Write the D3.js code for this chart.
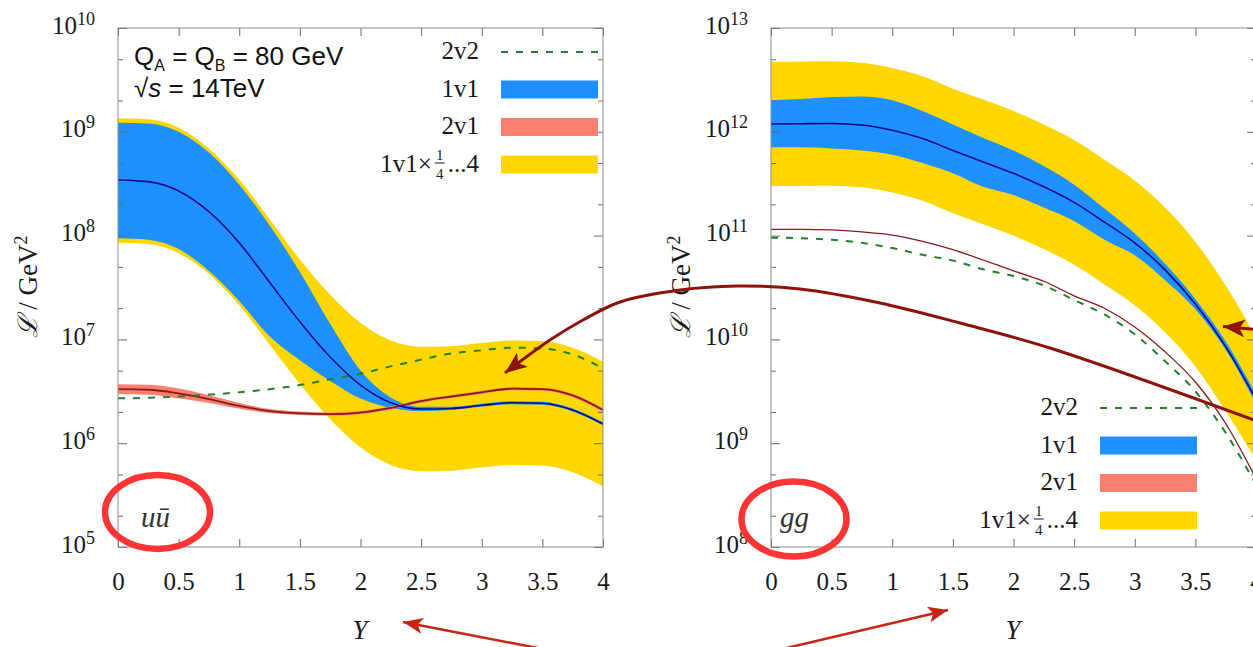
<!DOCTYPE html>
<html lang="en">
<head>
<meta charset="utf-8">
<title>Double parton luminosities</title>
<script src="https://d3js.org/d3.v7.min.js"></script>
<style>
  body { margin: 0; background: #fff; }
  svg { display: block; }
</style>
</head>
<body>
<script>
// ---- Data, luminosities given as log10(L / GeV^2) ----
const rapidity = [0, 0.25, 0.5, 0.75, 1, 1.25, 1.5, 1.75, 2, 2.25, 2.5, 2.75, 3, 3.25, 3.5, 3.75, 4];

// u ubar panel
const uu1v1     = [8.536, 8.52, 8.43, 8.23, 7.93, 7.55, 7.17, 6.83, 6.56, 6.39, 6.33, 6.335, 6.365, 6.39, 6.385, 6.32, 6.185];
const uu1v1Hi   = [9.088, 9.08, 9.00, 8.80, 8.49, 8.10, 7.65, 7.15, 6.70, 6.44, 6.35, 6.35, 6.38, 6.405, 6.40, 6.335, 6.20];
const uu1v1Lo   = [7.974, 7.96, 7.87, 7.66, 7.37, 7.03, 6.80, 6.60, 6.43, 6.34, 6.31, 6.32, 6.35, 6.375, 6.37, 6.305, 6.17];
const uuScaleHi = [9.13, 9.12, 9.04, 8.84, 8.54, 8.16, 7.77, 7.43, 7.16, 6.99, 6.93, 6.935, 6.965, 6.99, 6.985, 6.92, 6.785];
const uuScaleLo = [7.93, 7.92, 7.83, 7.63, 7.33, 6.95, 6.57, 6.23, 5.96, 5.79, 5.73, 5.735, 5.765, 5.79, 5.785, 5.72, 5.585];
const uu2v1     = [6.52, 6.515, 6.48, 6.425, 6.36, 6.31, 6.288, 6.28, 6.295, 6.34, 6.405, 6.45, 6.49, 6.525, 6.52, 6.46, 6.32];
const uu2v1Hi   = [6.555, 6.55, 6.515, 6.45, 6.375, 6.318, 6.293, 6.284, 6.298, 6.343, 6.408, 6.453, 6.493, 6.528, 6.523, 6.463, 6.323];
const uu2v1Lo   = [6.485, 6.48, 6.445, 6.40, 6.345, 6.302, 6.283, 6.276, 6.292, 6.337, 6.402, 6.447, 6.487, 6.522, 6.517, 6.457, 6.317];
const uu2v2     = [6.433, 6.437, 6.45, 6.468, 6.49, 6.52, 6.56, 6.615, 6.67, 6.74, 6.805, 6.865, 6.895, 6.92, 6.912, 6.855, 6.72];

// g g panel
const gg1v1     = [12.075, 12.078, 12.08, 12.065, 12.015, 11.935, 11.82, 11.71, 11.60, 11.47, 11.32, 11.13, 10.93, 10.67, 10.34, 9.93, 9.42];
const gg1v1Hi   = [12.305, 12.315, 12.335, 12.34, 12.305, 12.20, 12.07, 11.94, 11.82, 11.67, 11.49, 11.26, 11.02, 10.73, 10.39, 9.98, 9.47];
const gg1v1Lo   = [11.85, 11.85, 11.84, 11.82, 11.78, 11.70, 11.60, 11.47, 11.39, 11.27, 11.14, 10.96, 10.81, 10.57, 10.29, 9.90, 9.38];
const ggScaleHi = [12.675, 12.678, 12.68, 12.665, 12.615, 12.535, 12.415, 12.31, 12.20, 12.07, 11.92, 11.73, 11.53, 11.27, 10.94, 10.52, 10.02];
const ggScaleLo = [11.478, 11.478, 11.48, 11.465, 11.415, 11.335, 11.215, 11.11, 11.0, 10.87, 10.72, 10.53, 10.33, 10.07, 9.74, 9.31, 8.84];
const gg2v1     = [11.06, 11.06, 11.055, 11.035, 11.005, 10.945, 10.865, 10.765, 10.66, 10.56, 10.42, 10.30, 10.12, 9.88, 9.59, 9.19, 8.66];
const gg2v2     = [10.98, 10.975, 10.96, 10.93, 10.88, 10.815, 10.76, 10.675, 10.61, 10.52, 10.38, 10.24, 10.05, 9.79, 9.50, 9.10, 8.60];

const xTicks = [0, 0.5, 1, 1.5, 2, 2.5, 3, 3.5, 4];
const legendNames = ["2v2", "1v1", "2v1"];

// ---- Styles ----
const W = 1253, H = 647;
const serif = "'Liberation Serif', 'DejaVu Serif', serif";
const sans = "'Liberation Sans', Arial, sans-serif";
const col = {
    blue: "#1e90ff", yellow: "#ffd700", salmon: "#fa8072",
    line1v1: "#0a0a80", line2v1: "#8b1a1a", line2v2: "#23802a",
    frame: "#8c8c8c", tick: "#6a6a6a", text: "#1a1a1a"
};

const pw = e => Math.pow(10, e);

const panels = [
    {
        id: "uu", left: 118, top: 28, width: 485, height: 519, exps: [5, 10],
        rows: rapidity.map((Y, i) => ({Y, c: pw(uu1v1[i]), bh: pw(uu1v1Hi[i]), bl: pw(uu1v1Lo[i]),
            sh: pw(uuScaleHi[i]), sl: pw(uuScaleLo[i]), r: pw(uu2v1[i]), rh: pw(uu2v1Hi[i]),
            rl: pw(uu2v1Lo[i]), g: pw(uu2v2[i])})),
        label: "u\u016b", labelX: 141, labelY: 527,
        ring: {cx: 157.5, cy: 512, rx: 52.5, ry: 37},
        legend: {xr: 479, sx: 501, y0: 52},
        yTitleX: 37, xTitleX: 360, lw2v1: 1.8
    },
    {
        id: "gg", left: 771, top: 28, width: 485, height: 519, exps: [8, 13],
        rows: rapidity.map((Y, i) => ({Y, c: pw(gg1v1[i]), bh: pw(gg1v1Hi[i]), bl: pw(gg1v1Lo[i]),
            sh: pw(ggScaleHi[i]), sl: pw(ggScaleLo[i]), r: pw(gg2v1[i]), g: pw(gg2v2[i])})),
        label: "gg", labelX: 780, labelY: 527,
        ring: {cx: 794, cy: 519, rx: 52.5, ry: 37.5},
        legend: {xr: 1078, sx: 1100, y0: 408},
        yTitleX: 690, xTitleX: 1013, lw2v1: 1.3
    }
];

const svg = d3.select("body").append("svg")
    .attr("width", W).attr("height", H)
    .style("background", "#fff");

const defs = svg.append("defs");

function drawPanel(p) {
    const x = d3.scaleLinear().domain([0, 4]).range([p.left, p.left + p.width]);
    const y = d3.scaleLog().domain([pw(p.exps[0]), pw(p.exps[1])]).range([p.top + p.height, p.top]);
    const bottom = p.top + p.height, right = p.left + p.width;

    defs.append("clipPath").attr("id", "clip-" + p.id)
        .append("rect").attr("x", p.left).attr("y", p.top)
        .attr("width", p.width).attr("height", p.height);

    const g = svg.append("g");
    const plot = g.append("g").attr("clip-path", `url(#clip-${p.id})`);

    const band = (lo, hi) => d3.area().x(d => x(d.Y)).y0(d => y(d[lo])).y1(d => y(d[hi]))
        .curve(d3.curveMonotoneX);
    const line = k => d3.line().x(d => x(d.Y)).y(d => y(d[k])).curve(d3.curveMonotoneX);

    plot.append("path").datum(p.rows).attr("d", band("sl", "sh")).attr("fill", col.yellow);
    plot.append("path").datum(p.rows).attr("d", band("bl", "bh")).attr("fill", col.blue);
    if (p.rows[0].rh !== undefined) {
        plot.append("path").datum(p.rows).attr("d", band("rl", "rh"))
            .attr("fill", col.salmon).attr("stroke", col.salmon).attr("stroke-width", 2.5);
    }
    plot.append("path").datum(p.rows).attr("d", line("r"))
        .attr("fill", "none").attr("stroke", col.line2v1).attr("stroke-width", p.lw2v1);
    plot.append("path").datum(p.rows).attr("d", line("g"))
        .attr("fill", "none").attr("stroke", col.line2v2).attr("stroke-width", 2)
        .attr("stroke-dasharray", "7,8");
    plot.append("path").datum(p.rows).attr("d", line("c"))
        .attr("fill", "none").attr("stroke", col.line1v1).attr("stroke-width", 1.6);

    // axes
    const styleAxis = a => {
        a.select(".domain").remove();
        a.selectAll(".tick line").attr("stroke", col.tick).attr("stroke-width", 1);
    };
    g.append("g").attr("transform", `translate(0,${bottom})`)
        .call(d3.axisBottom(x).tickValues(xTicks).tickSizeInner(-8).tickSizeOuter(0)
            .tickPadding(25).tickFormat(d => d))
        .call(styleAxis)
        .call(a => a.selectAll("text").attr("font-family", serif).attr("font-size", 25)
            .attr("fill", col.text));
    g.append("g").attr("transform", `translate(0,${p.top})`)
        .call(d3.axisTop(x).tickValues(xTicks).tickSizeInner(-8).tickSizeOuter(0).tickFormat(""))
        .call(styleAxis);

    const decades = d3.range(p.exps[0], p.exps[1] + 1).map(pw);
    const minors = [];
    d3.range(p.exps[0], p.exps[1]).forEach(e => { minors.push(2 * pw(e), 5 * pw(e)); });

    [[d3.axisLeft, p.left], [d3.axisRight, right]].forEach(([ax, pos]) => {
        g.append("g").attr("transform", `translate(${pos},0)`)
            .call(ax(y).tickValues(decades).tickSizeInner(-9).tickSizeOuter(0).tickFormat(""))
            .call(styleAxis);
        g.append("g").attr("transform", `translate(${pos},0)`)
            .call(ax(y).tickValues(minors).tickSizeInner(-5).tickSizeOuter(0).tickFormat(""))
            .call(styleAxis);
    });

    // y tick labels 10^n
    decades.forEach((v, i) => {
        const t = g.append("text")
            .attr("x", p.left - 23).attr("y", y(v) + 5.5)
            .attr("text-anchor", "end")
            .attr("font-family", serif).attr("font-size", 25).attr("fill", col.text);
        t.append("tspan").text("10");
        t.append("tspan").attr("font-size", 18).attr("dy", -9).text(p.exps[0] + i);
    });

    g.append("rect").attr("x", p.left).attr("y", p.top)
        .attr("width", p.width).attr("height", p.height)
        .attr("fill", "none").attr("stroke", col.frame).attr("stroke-width", 1);

    // axis titles
    g.append("text").attr("x", p.xTitleX).attr("y", 639)
        .attr("text-anchor", "middle").attr("font-family", serif)
        .attr("font-style", "italic").attr("font-size", 27).attr("fill", col.text)
        .text("Y");
    const yt = g.append("text")
        .attr("transform", `translate(${p.yTitleX},287) rotate(-90)`)
        .attr("text-anchor", "middle").attr("font-family", serif)
        .attr("font-size", 27).attr("fill", col.text);
    yt.append("tspan").attr("font-style", "italic").text("\u2112");
    yt.append("tspan").text(" / GeV");
    yt.append("tspan").attr("font-size", 18).attr("dy", -10).text("2");

    // process label
    g.append("text").attr("x", p.labelX).attr("y", p.labelY)
        .attr("font-family", serif).attr("font-style", "italic")
        .attr("font-size", 29).attr("fill", "#333").text(p.label);

    drawLegend(g, p.legend);

    g.append("ellipse").attr("cx", p.ring.cx).attr("cy", p.ring.cy)
        .attr("rx", p.ring.rx).attr("ry", p.ring.ry)
        .attr("fill", "none").attr("stroke", "#ff3535").attr("stroke-width", 6.5);
}

function drawLegend(g, L) {
    const step = 37.5, sw = 97;
    const txt = (xx, yy, s, size) => g.append("text").attr("x", xx).attr("y", yy)
        .attr("font-family", serif).attr("font-size", size || 25).attr("fill", col.text).text(s);

    legendNames.forEach((name, i) => {
        const cy = L.y0 + i * step;
        txt(L.xr, cy + 7, name).attr("text-anchor", "end");
        if (i === 0) {
            g.append("line").attr("x1", L.sx).attr("x2", L.sx + sw).attr("y1", cy).attr("y2", cy)
                .attr("stroke", col.line2v2).attr("stroke-width", 2).attr("stroke-dasharray", "7,8");
        } else {
            g.append("rect").attr("x", L.sx).attr("y", cy - 9).attr("width", sw).attr("height", 18)
                .attr("fill", i === 1 ? col.blue : col.salmon);
        }
    });

    // 1v1 x 1/4 ... 4
    const cy = L.y0 + 3 * step, yb = cy + 7;
    const tail = txt(L.xr, yb, "...4").attr("text-anchor", "end");
    const fx = L.xr - tail.node().getComputedTextLength() - 8;
    txt(fx, yb - 12, "1", 15).attr("text-anchor", "middle");
    g.append("line").attr("x1", fx - 5).attr("x2", fx + 5).attr("y1", yb - 8.5).attr("y2", yb - 8.5)
        .attr("stroke", col.text).attr("stroke-width", 1);
    txt(fx, yb + 7, "4", 15).attr("text-anchor", "middle");
    txt(fx - 8, yb, "1v1\u00d7").attr("text-anchor", "end");
    g.append("rect").attr("x", L.sx).attr("y", cy - 9).attr("width", sw).attr("height", 18)
        .attr("fill", col.yellow);
}

panels.forEach(drawPanel);

// scale / energy note
const n1 = svg.append("text").attr("x", 134).attr("y", 65)
    .attr("font-family", sans).attr("font-size", 26).attr("fill", "#111");
n1.append("tspan").text("Q");
n1.append("tspan").attr("font-size", 16).attr("dy", 6).text("A");
n1.append("tspan").attr("dy", -6).text(" = Q");
n1.append("tspan").attr("font-size", 16).attr("dy", 6).text("B");
n1.append("tspan").attr("dy", -6).text(" = 80 GeV");
const n2 = svg.append("text").attr("x", 134).attr("y", 97)
    .attr("font-family", sans).attr("font-size", 26).attr("fill", "#111");
n2.append("tspan").text("\u221a");
n2.append("tspan").attr("font-style", "italic").text("s");
n2.append("tspan").text(" = 14TeV");

// ---- annotation arrows (overlay, pixel positions) ----
function marker(id, color, len, half) {
    defs.append("marker").attr("id", id)
        .attr("markerUnits", "userSpaceOnUse")
        .attr("viewBox", `0 0 ${len} ${2 * half}`)
        .attr("markerWidth", len).attr("markerHeight", 2 * half)
        .attr("refX", len).attr("refY", half).attr("orient", "auto")
        .append("path")
        .attr("d", `M0,0 L${len},${half} L0,${2 * half} L${len * 0.25},${half} Z`)
        .attr("fill", color);
}
const darkRed = "#8e1208", brightRed = "#c62612";
marker("headDark", darkRed, 22, 9);
marker("headBright", brightRed, 20, 8);

const curvePts = [[1262, 423], [1050, 348], [960, 323], [880, 303], [800, 289], [737, 286],
    [680, 290], [620, 302], [583, 320], [550, 340], [505, 373]];
svg.append("path").attr("d", d3.line().curve(d3.curveCatmullRom)(curvePts))
    .attr("fill", "none").attr("stroke", darkRed).attr("stroke-width", 3)
    .attr("marker-end", "url(#headDark)");
svg.append("path").attr("d", "M1262,330 L1223,326.5")
    .attr("fill", "none").attr("stroke", darkRed).attr("stroke-width", 3)
    .attr("marker-end", "url(#headDark)");
svg.append("path").attr("d", "M548,650 L403,622")
    .attr("fill", "none").attr("stroke", brightRed).attr("stroke-width", 2.5)
    .attr("marker-end", "url(#headBright)");
svg.append("path").attr("d", "M778,650 L948,610")
    .attr("fill", "none").attr("stroke", brightRed).attr("stroke-width", 2.5)
    .attr("marker-end", "url(#headBright)");
</script>
</body>
</html>
